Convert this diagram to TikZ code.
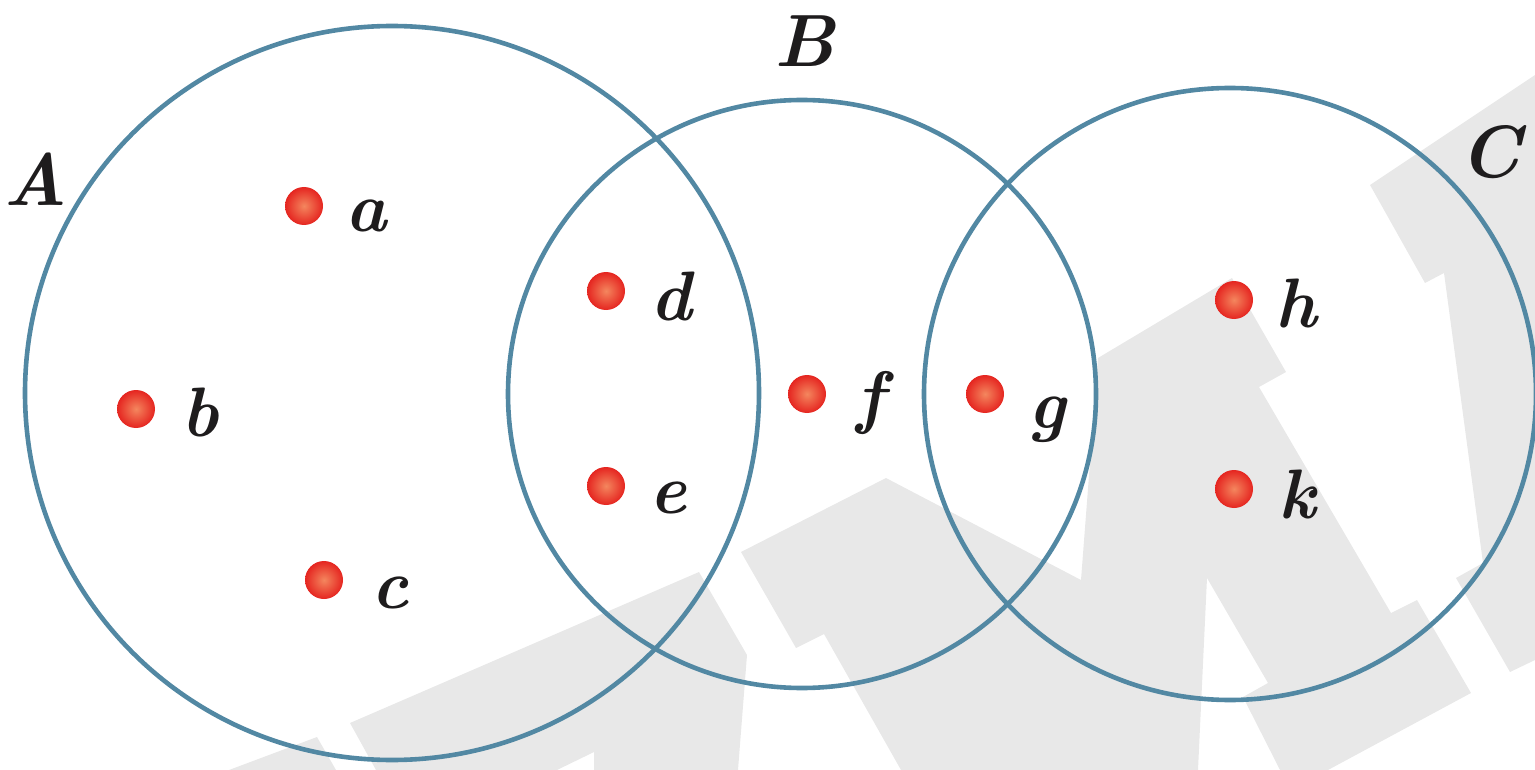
\documentclass[tikz,border=0pt]{standalone}
\usepackage{fontspec}
\definecolor{ringcol}{HTML}{5288A3}
\definecolor{wmgray}{HTML}{E8E8E8}
\definecolor{dotin}{HTML}{F4865E}
\definecolor{dotout}{HTML}{E52520}
\definecolor{inkcol}{HTML}{1E1C1D}
\tikzset{
  setring/.style={circle, draw=ringcol, line width=4.6pt, inner sep=0pt, fill=none},
  elem/.style={circle, inner sep=0pt, minimum size=38pt, shade, inner color=dotin, outer color=dotout},
  lbl/.style={inner sep=0pt, anchor=base, text=inkcol, font=\fontsize{70}{80}\selectfont\bfseries\itshape},
  setlbl/.style={inner sep=0pt, anchor=base, text=inkcol, font=\fontsize{74}{84}\selectfont\bfseries\itshape},
  wm/.style={fill=wmgray, draw=none}
}
\begin{document}
\begin{tikzpicture}[x=1pt,y=-1pt]
\useasboundingbox (0,0) rectangle (1535,770);
% watermark
\fill[wm] (229,770) -- (317,737) -- (336,770) -- cycle;
\fill[wm] (350,723) -- (699,572) -- (747,655) -- (738,770) -- (594,770) -- (594,752) -- (557,770) -- (376,770) -- cycle;
\fill[wm] (741,552) -- (886,478) -- (1081,580) -- (1098,358) -- (1232,278) -- (1286,372) -- (1259,387) -- (1391,613) -- (1417,600) -- (1471,693) -- (1328,770) -- (1280,770) -- (1243,697) -- (1268,683) -- (1207,578) -- (1198,770) -- (901,770) -- (824,634) -- (796,648) -- cycle;
\fill[wm] (1370,185) -- (1535,75) -- (1535,660) -- (1510,672) -- (1456,578) -- (1483,563) -- (1444,273) -- (1425,283) -- cycle;
% sets
\node[setring, minimum size=734pt] (ringA) at (392,393) {};
\node[setring, minimum size=588pt] (ringB) at (802,394) {};
\node[setring, minimum size=612pt] (ringC) at (1230,394) {};
% elements
\node[elem] (a) at (304,206) {};
\node[elem] (b) at (136,409) {};
\node[elem] (c) at (324,580) {};
\node[elem] (d) at (606,291) {};
\node[elem] (e) at (606,486) {};
\node[elem] (f) at (807,394) {};
\node[elem] (g) at (985,394) {};
\node[elem] (h) at (1234,300) {};
\node[elem] (k) at (1234,489) {};
% labels
\node[lbl] (la) at (366,232) {a};
\node[lbl] (lb) at (200,436) {b};
\node[lbl] (lc) at (390,608) {c};
\node[lbl] (ld) at (671,320) {d};
\node[lbl] (le) at (668,513) {e};
\node[lbl] (lf) at (870,420) {f};
\node[lbl] (lg) at (1047,428) {g};
\node[lbl] (lh) at (1296,327) {h};
\node[lbl] (lk) at (1297,518) {k};
\node[setlbl] (lA) at (36,206) {A};
\node[setlbl] (lB) at (805,67) {B};
\node[setlbl] (lC) at (1490,178) {C};
\end{tikzpicture}
\end{document}
